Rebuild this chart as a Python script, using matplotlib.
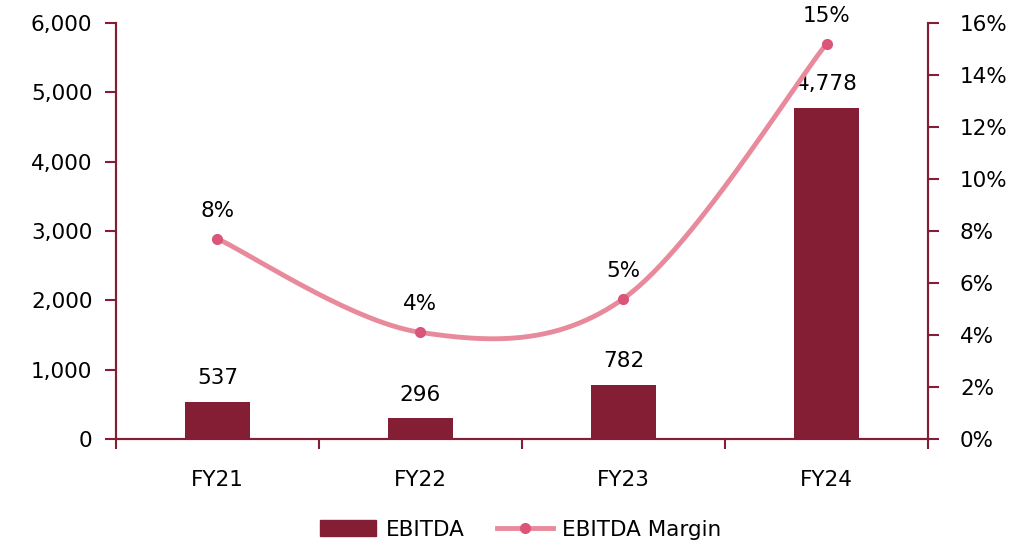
import matplotlib.pyplot as plt
import numpy as np
from matplotlib.ticker import FuncFormatter, FixedLocator
from matplotlib.lines import Line2D
from matplotlib.patches import Patch

# Chart data
years = ['FY21', 'FY22', 'FY23', 'FY24']
ebitda = [537, 296, 782, 4778]
margin = [7.7, 4.1, 5.4, 15.2]  # %

BAR_COLOR = '#841E35'
AXIS_COLOR = '#841E35'
LINE_COLOR = '#E88A9C'
MARKER_COLOR = '#DA5577'
FS = 15.5

plt.rcParams['font.family'] = ['DejaVu Sans']


def smooth_curve(x, y, steps=60):
    """Catmull-Rom style smoothing, similar to Excel's smoothed lines."""
    x = np.asarray(x, float)
    y = np.asarray(y, float)
    px = np.concatenate([[x[0]], x, [x[-1]]])
    py = np.concatenate([[y[0]], y, [y[-1]]])
    xs, ys = [], []
    t = np.linspace(0, 1, steps)
    for i in range(1, len(px) - 2):
        p0, p1, p2, p3 = (np.array([px[j], py[j]]) for j in range(i - 1, i + 3))
        c1 = p1 + (p2 - p0) / 6
        c2 = p2 - (p3 - p1) / 6
        pts = ((1 - t) ** 3)[:, None] * p1 + (3 * (1 - t) ** 2 * t)[:, None] * c1 \
            + (3 * (1 - t) * t ** 2)[:, None] * c2 + (t ** 3)[:, None] * p2
        xs.extend(pts[:, 0])
        ys.extend(pts[:, 1])
    return np.array(xs), np.array(ys)


fig = plt.figure(figsize=(10.31, 5.45), dpi=100)
ax = fig.add_axes([0.1125, 0.1945, 0.7876, 0.7633])
ax2 = ax.twinx()

x = np.arange(len(years))
ax.bar(x, ebitda, width=0.32, color=BAR_COLOR, label='EBITDA', zorder=2)
for xi, v in zip(x, ebitda):
    ax.annotate(f'{v:,}', (xi, v), xytext=(0, 10), textcoords='offset points',
                ha='center', va='bottom', fontsize=FS, color='black')

sx, sy = smooth_curve(x, margin)
ax2.plot(sx, sy, color=LINE_COLOR, lw=3.5, solid_capstyle='round', zorder=3)
ax2.plot(x, margin, 'o', color=MARKER_COLOR, ms=7, zorder=4)
for xi, m in zip(x, margin):
    ax2.annotate(f'{m:.0f}%', (xi, m), xytext=(0, 13), textcoords='offset points',
                 ha='center', va='bottom', fontsize=FS, color='black')

ax.set_xlim(-0.5, len(years) - 0.5)
ax.set_ylim(0, 6000)
ax2.set_ylim(0, 16)
ax.set_yticks(np.arange(0, 6001, 1000))
ax2.set_yticks(np.arange(0, 17, 2))
ax.yaxis.set_major_formatter(FuncFormatter(lambda v, p: f'{v:,.0f}'))
ax2.yaxis.set_major_formatter(FuncFormatter(lambda v, p: f'{v:.0f}%'))

ax.set_xticks(x)
ax.set_xticklabels(years)
ax.xaxis.set_minor_locator(FixedLocator(np.arange(-0.5, len(years), 1)))
ax.tick_params(axis='x', which='major', length=0, pad=22, labelsize=FS)
ax.tick_params(axis='x', which='minor', length=7, width=1.5, color=AXIS_COLOR)
ax.tick_params(axis='y', length=8, width=1.5, color=AXIS_COLOR, labelsize=FS, pad=9)
ax2.tick_params(axis='y', length=8, width=1.5, color=AXIS_COLOR, labelsize=FS, pad=15)

for a in (ax, ax2):
    a.spines['top'].set_visible(False)
    for s in ('left', 'right', 'bottom'):
        a.spines[s].set_color(AXIS_COLOR)
        a.spines[s].set_linewidth(1.5)

# Legend
handles = [Patch(color=BAR_COLOR, label='EBITDA'),
           Line2D([], [], color=LINE_COLOR, lw=3.5, marker='o', ms=7,
                  markerfacecolor=MARKER_COLOR, markeredgecolor=MARKER_COLOR,
                  label='EBITDA Margin')]
fig.legend(handles=handles, loc='center', bbox_to_anchor=(0.505, 0.028), ncol=2,
           frameon=False, fontsize=FS, handlelength=2.6, handleheight=0.75,
           columnspacing=1.5, handletextpad=0.45)

fig.savefig('out.png', dpi=100)
